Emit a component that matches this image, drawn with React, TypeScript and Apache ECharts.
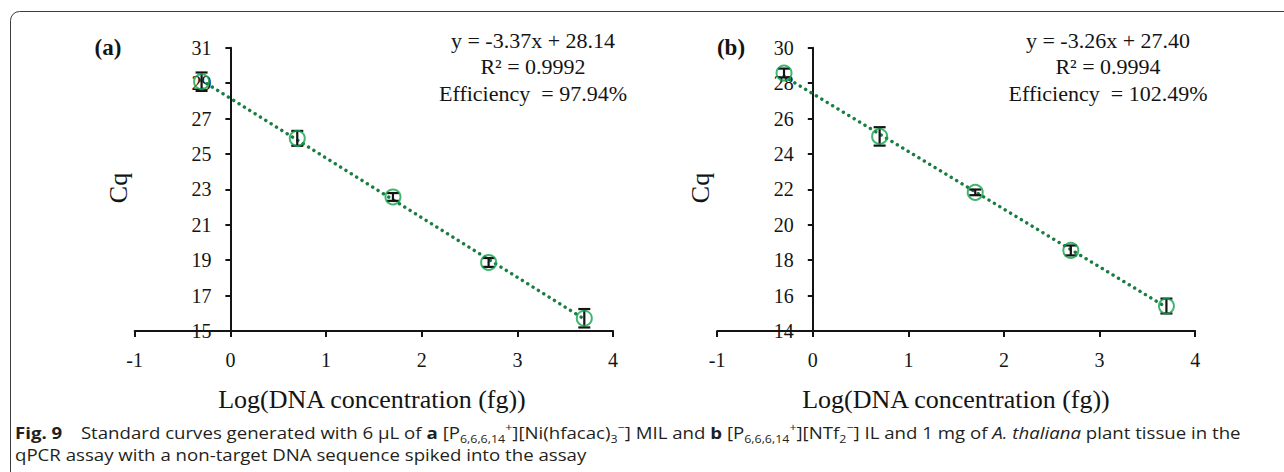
import { useEffect, useRef } from "react";
import * as echarts from "echarts";

// log10 of the spiked DNA amount (0.5, 5, 50, 500, 5000 fg)
const logConc = [-0.301, 0.699, 1.699, 2.699, 3.699];
const xTicks = [-1, 0, 1, 2, 3, 4];

// panel (a): [P6,6,6,14+][Ni(hfacac)3-] MIL
const cqA = [29.08, 25.88, 22.57, 18.87, 15.72];
const sdA = [0.52, 0.42, 0.22, 0.25, 0.52];
const yTicksA = [15, 17, 19, 21, 23, 25, 27, 29, 31];

// panel (b): [P6,6,6,14+][NTf2-] IL
const cqB = [28.57, 24.99, 21.83, 18.55, 15.41];
const sdB = [0.25, 0.52, 0.16, 0.28, 0.42];
const yTicksB = [14, 16, 18, 20, 22, 24, 26, 28, 30];

// linear fits printed on each panel
const panelTags = ["(a)", "(b)"];
const slopes = [-3.37, -3.26];
const intercepts = [28.14, 27.4];
const rSquared = ["0.9992", "0.9994"];
const efficiencies = ["97.94%", "102.49%"];

const SERIF = '"Liberation Serif", "Times New Roman", serif';
const SANS = '"Open Sans", "Noto Sans", sans-serif';
const INK = "#141414";
const CAPTION_INK = "#231f20";
const MARKER_GREEN = "#12a24c";
const FIT_GREEN = "#1a7d40";

type Panel = {
  cq: number[];
  sd: number[];
  yTicks: number[];
  grid: { left: number; width: number };
  textX: { tag: number; eq: number; yName: number; xName: number };
};

const panels: Panel[] = [
  {
    cq: cqA,
    sd: sdA,
    yTicks: yTicksA,
    grid: { left: 134.7, width: 478.4 },
    textX: { tag: 108, eq: 533, yName: 118, xName: 372 },
  },
  {
    cq: cqB,
    sd: sdB,
    yTicks: yTicksB,
    grid: { left: 717.2, width: 478.0 },
    textX: { tag: 731, eq: 1108, yName: 700, xName: 956 },
  },
];

const GRID_TOP = 47.7;
const GRID_HEIGHT = 283.3;

function errorBarItem(params: any, api: any) {
  const x = api.value(0);
  const y = api.value(1);
  const e = api.value(2);
  const top = api.coord([x, y + e]);
  const bot = api.coord([x, y - e]);
  const hw = 6;
  const style = { stroke: INK, lineWidth: 2.2 };
  return {
    type: "group",
    children: [
      { type: "line", shape: { x1: top[0], y1: top[1], x2: bot[0], y2: bot[1] }, style },
      { type: "line", shape: { x1: top[0] - hw, y1: top[1], x2: top[0] + hw, y2: top[1] }, style },
      { type: "line", shape: { x1: bot[0] - hw, y1: bot[1], x2: bot[0] + hw, y2: bot[1] }, style },
    ],
  };
}

function buildOption() {
  const grid: any[] = [];
  const xAxis: any[] = [];
  const yAxis: any[] = [];
  const series: any[] = [];
  const graphic: any[] = [];

  const xMin = xTicks[0];
  const xMax = xTicks[xTicks.length - 1];

  panels.forEach((p, i) => {
    grid.push({ left: p.grid.left, width: p.grid.width, top: GRID_TOP, height: GRID_HEIGHT });
    xAxis.push({
      type: "value",
      gridIndex: i,
      min: xMin,
      max: xMax,
      interval: 1,
      axisLine: { onZero: false, lineStyle: { color: INK, width: 2 } },
      axisTick: { show: true, length: 6, lineStyle: { color: INK, width: 2 } },
      axisLabel: {
        margin: 19,
        color: INK,
        fontFamily: SERIF,
        fontSize: 20,
        customValues: xTicks,
      },
      splitLine: { show: false },
    });
    // the vertical axis crosses the horizontal one at x = 0
    const zeroOffset = ((0 - xMin) / (xMax - xMin)) * p.grid.width;
    yAxis.push({
      type: "value",
      gridIndex: i,
      position: "left",
      offset: -zeroOffset,
      min: p.yTicks[0],
      max: p.yTicks[p.yTicks.length - 1],
      axisLine: { show: true, onZero: false, lineStyle: { color: INK, width: 2 } },
      axisTick: { show: true, length: 5, lineStyle: { color: INK, width: 2 }, customValues: p.yTicks },
      axisLabel: {
        margin: 19,
        color: INK,
        fontFamily: SERIF,
        fontSize: 20,
        customValues: p.yTicks,
      },
      splitLine: { show: false },
    });

    const x0 = logConc[0];
    const x1 = logConc[logConc.length - 1];
    series.push({
      type: "line",
      xAxisIndex: i,
      yAxisIndex: i,
      data: [
        [x0, intercepts[i] + slopes[i] * x0],
        [x1, intercepts[i] + slopes[i] * x1],
      ],
      showSymbol: false,
      symbol: "none",
      lineStyle: { color: FIT_GREEN, width: 3.4, type: [0.1, 6.2], cap: "round" },
      z: 2,
      silent: true,
    });
    series.push({
      type: "custom",
      xAxisIndex: i,
      yAxisIndex: i,
      renderItem: errorBarItem,
      data: logConc.map((x, k) => [x, p.cq[k], p.sd[k]]),
      encode: { x: 0, y: 1 },
      z: 3,
      silent: true,
    });
    series.push({
      type: "scatter",
      xAxisIndex: i,
      yAxisIndex: i,
      data: logConc.map((x, k) => [x, p.cq[k]]),
      symbol: "circle",
      symbolSize: 15,
      itemStyle: { color: "rgba(0,0,0,0)", borderColor: MARKER_GREEN, borderWidth: 2 },
      z: 4,
      silent: true,
    });

    // panel tag
    graphic.push({
      type: "text",
      x: p.textX.tag,
      y: 47,
      style: {
        text: panelTags[i],
        fill: INK,
        font: `bold 23px ${SERIF}`,
        textAlign: "center",
        textVerticalAlign: "middle",
      },
    });
    // fit equation block
    const eqLines = [
      `y = ${slopes[i].toFixed(2)}x + ${intercepts[i].toFixed(2)}`,
      `R² = ${rSquared[i]}`,
      `Efficiency  = ${efficiencies[i]}`,
    ];
    eqLines.forEach((t, k) => {
      graphic.push({
        type: "text",
        x: p.textX.eq,
        y: 40 + k * 26.5,
        style: {
          text: t,
          fill: INK,
          font: `22px ${SERIF}`,
          textAlign: "center",
          textVerticalAlign: "middle",
        },
      });
    });
    // axis titles
    graphic.push({
      type: "text",
      x: p.textX.yName,
      y: 188,
      rotation: Math.PI / 2,
      style: {
        text: "Cq",
        fill: INK,
        font: `26px ${SERIF}`,
        textAlign: "center",
        textVerticalAlign: "middle",
      },
    });
    graphic.push({
      type: "text",
      x: p.textX.xName,
      y: 399,
      style: {
        text: "Log(DNA concentration (fg))",
        fill: INK,
        font: `26px ${SERIF}`,
        textAlign: "center",
        textVerticalAlign: "middle",
      },
    });
  });

  // figure frame
  graphic.push({
    type: "rect",
    shape: { x: 10.5, y: 11.5, width: 1300, height: 520, r: 9 },
    style: { fill: "none", stroke: "#3c3c3c", lineWidth: 1 },
    z: 0,
  });

  // caption
  const captionLine1 =
    "{b|Fig. 9}\u2003Standard curves generated with 6 µL of {b|a} [P{sub|6,6,6,14}{sup|+}][Ni(hfacac){sub|3}{sup|−}] MIL and {b|b} [P{sub|6,6,6,14}{sup|+}][NTf{sub|2}{sup|−}] IL and 1 mg of {i|A. thaliana} plant tissue in the";
  const captionLine2 = "qPCR assay with a non-target DNA sequence spiked into the assay";
  graphic.push({
    type: "text",
    x: 15,
    y: 421,
    scaleX: 1.13,
    style: {
      text: captionLine1 + "\n" + captionLine2,
      fill: CAPTION_INK,
      fontFamily: SANS,
      fontSize: 16.5,
      lineHeight: 22.5,
      textAlign: "left",
      textVerticalAlign: "top",
      rich: {
        b: { fontFamily: SANS, fontSize: 16.5, fontWeight: "bold", fill: CAPTION_INK, lineHeight: 22.5 },
        i: { fontFamily: SANS, fontSize: 16.5, fontStyle: "italic", fill: CAPTION_INK, lineHeight: 22.5 },
        sub: { fontFamily: SANS, fontSize: 11, fill: CAPTION_INK, lineHeight: 12, verticalAlign: "bottom" },
        sup: { fontFamily: SANS, fontSize: 11, fill: CAPTION_INK, lineHeight: 12, verticalAlign: "top" },
      },
    },
  });

  return {
    animation: false,
    backgroundColor: "#ffffff",
    grid,
    xAxis,
    yAxis,
    series,
    graphic,
  };
}

export default function App() {
  const ref = useRef<HTMLDivElement>(null);
  useEffect(() => {
    if (!ref.current) return;
    const chart = echarts.init(ref.current, null, { renderer: "svg" });
    chart.setOption(buildOption() as any);
    return () => chart.dispose();
  }, []);
  return (
    <div
      ref={ref}
      style={{ position: "absolute", left: 0, top: 0, width: 1284, height: 472, background: "#fff" }}
    />
  );
}
